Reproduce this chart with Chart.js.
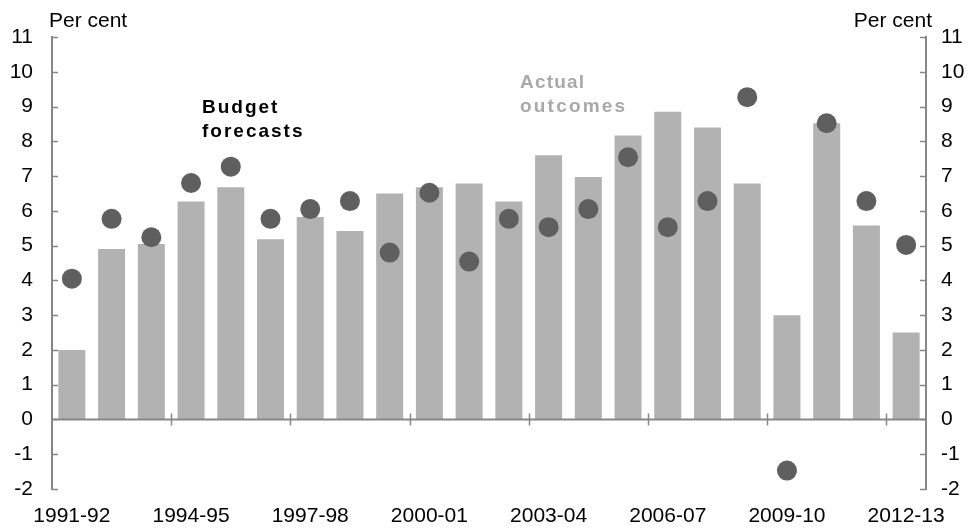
<!DOCTYPE html>
<html lang="en">
<head>
    <meta charset="UTF-8">
    <title>Budget forecasts and actual outcomes</title>
    <style>
        html, body { margin: 0; padding: 0; background: #fff; }
        #wrap { width: 972px; height: 529px; }
    </style>
</head>
<body>
    <div id="wrap"><canvas id="canvas"></canvas></div>

<script src="https://cdn.jsdelivr.net/npm/chart.js"></script>

<script>
const years = ['1991-92', '1992-93', '1993-94', '1994-95', '1995-96', '1996-97', '1997-98',
    '1998-99', '1999-00', '2000-01', '2001-02', '2002-03', '2003-04', '2004-05', '2005-06',
    '2006-07', '2007-08', '2008-09', '2009-10', '2010-11', '2011-12', '2012-13'];
const actual = [2.0, 4.9, 5.05, 6.27, 6.68, 5.18, 5.82, 5.42, 6.5, 6.68, 6.79, 6.27, 7.6, 6.97,
    8.17, 8.85, 8.4, 6.79, 3.0, 8.52, 5.58, 2.5];
const forecast = [4.05, 5.77, 5.24, 6.8, 7.27, 5.77, 6.05, 6.28, 4.8, 6.52, 4.54, 5.77, 5.53,
    6.05, 7.54, 5.53, 6.28, 9.27, -1.47, 8.52, 6.28, 5.02];
const yTicks = [-2, -1, 0, 1, 2, 3, 4, 5, 6, 7, 8, 9, 10, 11];

const axisGrey = '#878787';
const font = 'Liberation Sans, Arial, sans-serif';

// axis decorations: zero line, inward ticks, unit labels, annotations
const extras = {
    id: 'extras',
    afterDatasetsDraw(chart) {
        const ctx = chart.ctx;
        const a = chart.chartArea;
        const x = chart.scales.x;
        const yl = chart.scales.y;
        const y0 = yl.getPixelForValue(0);
        ctx.save();
        ctx.strokeStyle = axisGrey;
        ctx.lineWidth = 2;
        ctx.beginPath();
        ctx.moveTo(a.left, y0);
        ctx.lineTo(a.right, y0);
        ctx.stroke();

        ctx.lineWidth = 1.5;
        ctx.beginPath();
        yTicks.forEach(v => {
            const py = Math.round(yl.getPixelForValue(v)) + 0.5;
            ctx.moveTo(a.left, py); ctx.lineTo(a.left + 6, py);
            ctx.moveTo(a.right - 6, py); ctx.lineTo(a.right, py);
        });
        const step = (x.getPixelForValue(1) - x.getPixelForValue(0));
        for (let i = 3; i < years.length; i += 3) {
            const px = Math.round(x.getPixelForValue(i) - step / 2) + 0.5;
            ctx.moveTo(px, y0 - 6); ctx.lineTo(px, y0 + 6);
        }
        ctx.stroke();

        ctx.fillStyle = '#000';
        ctx.font = '21px ' + font;
        ctx.textBaseline = 'alphabetic';
        ctx.textAlign = 'left';
        ctx.fillText('Per cent', 49, 27);
        ctx.textAlign = 'right';
        ctx.fillText('Per cent', 932, 27);

        ctx.textAlign = 'left';
        ctx.font = 'bold 19px ' + font;
        ctx.letterSpacing = '2px';
        ctx.fillStyle = '#000';
        ctx.fillText('Budget', 202, 113);
        ctx.fillText('forecasts', 202, 137);
        ctx.fillStyle = '#a9a9a9';
        ctx.letterSpacing = '1.2px';
        ctx.fillText('Actual', 520, 88);
        ctx.letterSpacing = '2.2px';
        ctx.fillText('outcomes', 520, 112);
        ctx.restore();
    }
};

new Chart(document.getElementById('canvas'), {
    type: 'bar',
    data: {
        labels: years,
        datasets: [
            {
                type: 'line',
                label: 'Budget forecasts',
                data: forecast,
                showLine: false,
                pointRadius: 10,
                pointBackgroundColor: '#5f5f5f',
                pointBorderWidth: 0,
                borderColor: '#5f5f5f',
                order: 0
            },
            {
                label: 'Actual outcomes',
                data: actual,
                backgroundColor: '#b2b2b2',
                barPercentage: 0.68,
                categoryPercentage: 1,
                order: 1
            }
        ]
    },
    options: {
        responsive: true,
        maintainAspectRatio: false,
        animation: false,
        layout: { padding: { top: 37, left: 0, right: 0, bottom: 0 } },
        plugins: { legend: { display: false }, tooltip: { enabled: false } },
        scales: {
            x: {
                type: 'category',
                offset: true,
                grid: { display: false, drawTicks: false },
                border: { display: false },
                ticks: {
                    autoSkip: false,
                    maxRotation: 0,
                    padding: 15,
                    color: '#000',
                    font: { family: font, size: 21 },
                    callback: function (v, i) { return i % 3 === 0 ? years[i] : ''; }
                },
                afterFit(s) { s.height = 40; }
            },
            y: {
                position: 'left',
                min: -2, max: 11,
                grid: { display: false, drawTicks: false },
                border: { display: true, color: axisGrey, width: 2 },
                ticks: { stepSize: 1, padding: 19, color: '#000', font: { family: font, size: 21 } },
                afterFit(s) { s.width = 52; }
            },
            y2: {
                position: 'right',
                min: -2, max: 11,
                grid: { display: false, drawTicks: false },
                border: { display: true, color: axisGrey, width: 2 },
                ticks: { stepSize: 1, padding: 15, color: '#000', font: { family: font, size: 21 } },
                afterFit(s) { s.width = 46; }
            }
        }
    },
    plugins: [extras]
});
</script>
</body>
</html>
